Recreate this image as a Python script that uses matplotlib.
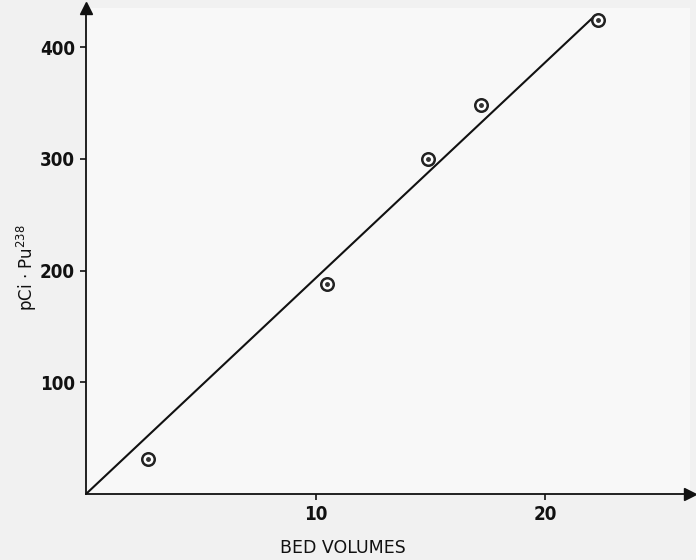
import matplotlib
matplotlib.use("Agg")
import matplotlib.pyplot as plt
from matplotlib import font_manager

# Measured activity versus throughput
bed_volumes = [2.7, 10.5, 14.9, 17.2, 22.3]
activity_pci = [31, 188, 300, 348, 424]

# Fitted straight line through the origin
fit_x = [0.0, 22.1]
fit_y = [0.0, 427.0]

x_ticks = [10, 20]
y_ticks = [100, 200, 300, 400]

tick_props = font_manager.FontProperties(family="DejaVu Sans", stretch="condensed",
                                         weight="bold", size=13.5)

fig = plt.figure(figsize=(6.96, 5.6), dpi=100, facecolor="#f1f1f1")
ax = fig.add_axes([86 / 696, 66 / 560, 604 / 696, 486 / 560])
ax.set_facecolor("#f8f8f8")

ax.set_xlim(0, 26.3)
ax.set_ylim(0, 435)

for side in ("top", "right"):
    ax.spines[side].set_visible(False)
for side in ("left", "bottom"):
    ax.spines[side].set_linewidth(1.3)
    ax.spines[side].set_color("#111111")

# Arrow heads at the ends of both axes
ax.plot(1, 0, ">", color="#111111", markersize=9, transform=ax.transAxes, clip_on=False)
ax.plot(0, 1, "^", color="#111111", markersize=9, transform=ax.transAxes, clip_on=False)

ax.set_xticks(x_ticks)
ax.set_yticks(y_ticks)
ax.tick_params(direction="out", length=4, width=1.2, color="#111111", pad=4)
for lab in ax.get_xticklabels() + ax.get_yticklabels():
    lab.set_fontproperties(tick_props)
    lab.set_color("#111111")

ax.plot(fit_x, fit_y, color="#111111", linewidth=1.5, solid_capstyle="round")
ax.plot(bed_volumes, activity_pci, linestyle="none", marker="o", markersize=9,
        markerfacecolor="white", markeredgecolor="#222222", markeredgewidth=1.8)
ax.plot(bed_volumes, activity_pci, linestyle="none", marker="o", markersize=2.5,
        markerfacecolor="#333333", markeredgecolor="#333333")

ax.text(343 / 696, 1 - 548 / 560, "BED VOLUMES", transform=fig.transFigure,
        ha="center", va="center", fontsize=12.5, color="#111111")
ax.text(27 / 696, 1 - 268 / 560, r"pCi $\cdot$ Pu$^{\mathregular{238}}$",
        transform=fig.transFigure, rotation=90, ha="center", va="center",
        fontsize=12, color="#111111")

fig.savefig("out.png", dpi=100, facecolor=fig.get_facecolor())
